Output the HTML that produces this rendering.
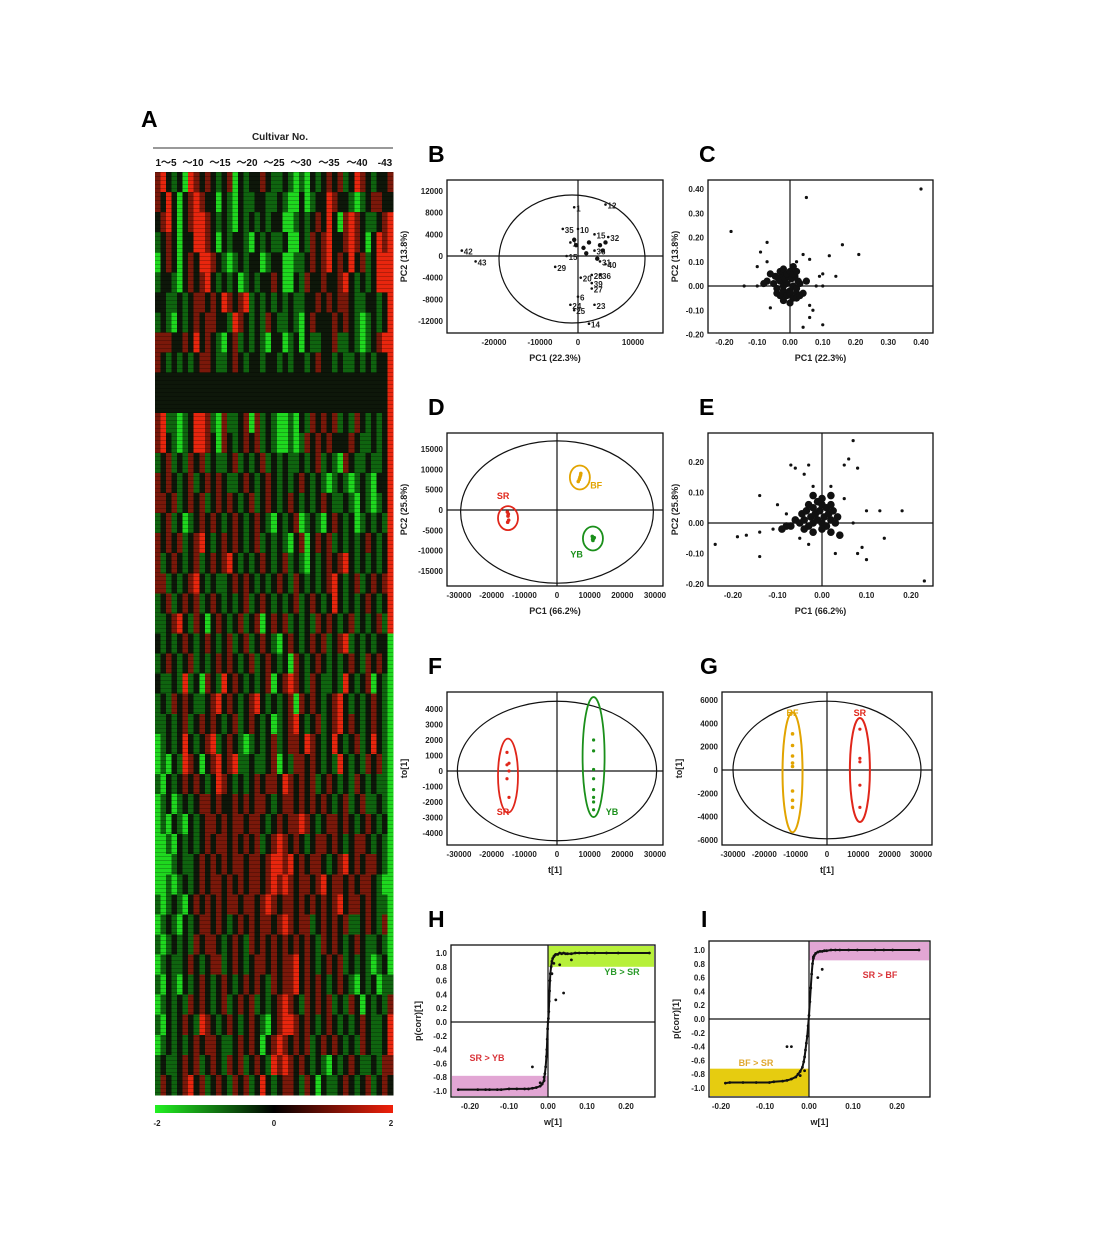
<!DOCTYPE html>
<html><head><meta charset="utf-8">
<style>
html,body{margin:0;padding:0;background:#fff;}
svg{display:block;font-family:"Liberation Sans",Arial,sans-serif;}
.tk{font-size:8px;font-weight:bold;fill:#222;}
.at{font-size:9px;font-weight:bold;fill:#222;}
.pl{font-size:23px;font-weight:bold;fill:#000;}
</style></head>
<body>
<svg id="fig" width="1100" height="1253" viewBox="0 0 1100 1253" xmlns="http://www.w3.org/2000/svg">
<rect x="0" y="0" width="1100" height="1253" fill="#fff"/>
<g id="root"></g>
</svg>
<script>
// ---------- DATA ----------
const heatRows = [
"rR.g.GRr.r.g.rG.g..r.gg.gGgG.g.r.rg.Rr.g.",
"r.R.G.rRr..G.gG.gg..gg.gGG.Gg..Rr..gGg.rr.",
".rR.G.rRRr.g.gG.g.g.g..GGg.g.r.R.GrRr.gg.r",
"g.r.G..RRr.G.g..gG.g.gg.GG.gr.rR..rRr.G.Rr",
"G.r.G.r.RRr.gGg.g..Gg..GGgg.r.rR.r.R.rg.RR",
"g..gG.r.rR.g.g.Gg.g..r.GG.gr..r..rR.g.g.RR",
"..gg.g.rr.r.Rr.rRg.g.g.g.gg..r.r.rr.gg..g.",
"g.gG.g.r.rr..gRr.g.gr.gg.gG.r...r.r.gGg.g.",
"rrr..r.R.r.gG.rg.g.gG..Gg.G.gg..rgg.gGg.rR",
"r.g.g.g.rr.gg.r.g..g..g.g..g.r..g.gg.g.g..",
"..........................................",
"..........................................",
"rRggGg.RRrgGrgg.rGrg.gGGgG.gr.r.rg.gr.g.g.",
"rR.gGg.RRr.Gr.g.r.rg.gGGgGgr.r.r...r.gg.g.",
"g.rg.gr.rg.gg.rg.g.rg.g.gg.g.rg.gGr.gg.gg.",
"r.r.g.rg.r.r.gg.r.g.r.g.g.r.g.gGg.gGg.gG..",
"rr.rg.r.rg.r.r.g.rg.r.g.r.g.g.r.gg.gG.gGg.",
"g.rg.Gg.r.r.g.r.g.r.gG.g.rGg.gG.r.g.Gg.g.g",
"r.r.rg.rR.g.r.r.g.rg.g.gG.rG.r.rg.g.g.r.g.",
"rg.r.g.rg.r.rR.g.g.r.g.rg.gG.g.r.rR.g.g.g.",
"rrg.g.rR.g.gg.r.r.g.g.r.gr.g.g.rR.g.rg.r.r",
"g.rg.r.rg.r.g.g.rg.r.g.g.rg.r.g.R.g.g.r.g.",
"gg.rR.gr.G.r.g.rg.rG.r.rg.g.gr.r.g.rg.g.rg",
".g.g.r.g.r.g.rg.rg.r.gG.r.g.r.rg.rRg.g.g.",
"g.r.g.rg.g.r.r.g.rg.r.g.Gr.g.r.g.g.r.gr.r.",
".gg.gRg.Gr.gR.r.g.g.rG.rRr.gr.gg.gR.g.rG.g",
"g.gr.r.gg.rR.r.g.rR.g.g.rGr.r.g.rR.g.g.r.g",
"gg.g.rg.r.r.g.rg.r.g.Gg.rR.g.rg.rR.r.g.r.g",
"Gg.g.R.g.rRg.r.gGg.g.rg.rr.Rr.g.R.g.rg.R.g",
"GgG.gRr.G.rR.rRgg.gg.rG.grr.r.g.gR.g.gr.rg",
"gG.g.r.r.g.Rr.g.g.r.rr.Rr.r.rg.r.g.gr.g.gg",
"Gg.Gg.g.rr.r..r.r.rr.g.rr.r.r.r.g.rg.rgg.g",
"GgG.gG.g.rr.r.rr.rr.g.r.rrRr.g.rr.r.g.r.g.",
"GGgG.g.g.r.rr.r.r.rg.rRr.r.g.rr.r.g.rr.g.g",
"GGGg.gg.r.r.r.rr.rr.rRRrR.r.rr.g.rR.r.rr.g",
"GGgGg.g.r.rr.r.r.rr.rRrRr.rr.rR.rr.r.rr.gG",
"gGg.gG.r.r.r.rr.rr.rRr.rr.r.r.r.rR.rr.r.gg",
"Gg.gG.g.rr.r.g.r.r.rr.rRr.rrg.r.r.rgg.r.gr",
"gGg.g.gr.rr.g.r.gr.r.r.r.r.r.gr.r.g.r.gg.g",
"Gg.gg.r.g.rrg.r.g.rr.r.rrR.r.g.r.rg.g.gGg.",
"gG.gG.g.r.g.r.g.r.r.gr.rrR.r.r.g.r.gG.g.Gg",
"Gg.g.gr.r.g.rg.r.rg.g.rRr.gr.r.rg.gr.G.g.g",
"gG.g.r.gRr.g.r.g.r.gG.rRRr.r.g.r.g.g.r.gg.",
"Gg.g.g.r.rr.gg.r.r.G.rRr.r.rg.r.r.g.gr.gg.",
"g.gg.r.rg.r.gr.rg.r.gRrRr.r.g.gG.g.r.gg.gr",
"gr.g.rR.rg.r.gr.rg.R.g.rr.gr.G.gg.r.g.rg.r"];
const heatSideCol = "r.RRRRRRRRRRRRRRRRRRRRRGGGGGGGGGGGGGGGGGgrRRr.g";
const heatColLabels = ["1～5","～10","～15","～20","～25","～30","～35","～40","-43"];
const colorbarTicks = ["-2","0","2"];

// B: PCA scores (cultivars)
const bX = [-27000,-24000,-1000,5000,-4000,0,3000,5500,-2000,3000,-3000,4000,5000,-6000,500,2500,4000,2500,2500,0,-2000,-1000,3000,2000,1000,2000,4000,5000,-1000,1500,3500,4500,-500];
const bY = [1000,-1000,9000,9500,5000,5000,4000,3500,2500,1000,0,-1000,-1500,-2000,-4000,-3500,-3500,-5000,-6000,-7500,-9000,-10000,-9000,-12500,1500,2500,2000,2500,3000,500,-500,1000,2000];
const bLbl = ["42","43","1","12","35","10","15","32","1","36","15","31","40","29","20","28","36","39","27","6","24","25","23","14","","","","","","","","",""];
const bXTicks = [-20000,-10000,0,10000];
const bYTicks = [12000,8000,4000,0,-4000,-8000,-12000];

// C: loadings
const cX = [0.40,0.05,-0.18,0.16,0.21,0.12,0.14,-0.07,-0.09,-0.10,-0.14,-0.10,0.06,0.04,0.10,0.09,-0.06,0.04,0.10,0.07,0.06,0.06,0.08,0.10,-0.07,0.02,
 -0.05,-0.04,-0.03,-0.02,-0.01,0,0.01,0.02,0.03,-0.045,-0.035,-0.025,-0.015,-0.005,0.005,0.015,0.025,-0.04,-0.03,-0.02,-0.01,0,0.01,0.02,-0.03,-0.02,-0.01,0,0.01,0.02,-0.06,-0.02,0.0,0.02,0.04,0.05,-0.07,0.01,-0.08,0.03];
const cY = [0.40,0.365,0.225,0.17,0.13,0.125,0.04,0.18,0.14,0.08,0.0,0.0,0.11,0.13,0.05,0.04,-0.09,-0.17,-0.16,-0.10,-0.13,-0.08,0.0,0.0,0.10,0.10,
 0.01,-0.01,0.02,0.0,0.01,-0.02,0.0,-0.01,0.01,0.04,0.03,0.05,0.03,0.04,0.03,0.04,0.02,-0.03,-0.04,-0.02,-0.04,-0.03,-0.05,-0.03,0.06,0.07,0.05,0.06,0.05,0.06,0.05,-0.06,-0.07,-0.05,-0.03,0.02,0.02,0.08,0.01,-0.04];
const cXTicks = [-0.20,-0.10,0,0.10,0.20,0.30,0.40];
const cYTicks = [0.40,0.30,0.20,0.10,0,-0.10,-0.20];

// D: PCA groups
const dGroups = ["SR","BF","YB"];
const dCx = [-15000,7000,11000];
const dCy = [-2000,8000,-7000];
const dPtX = [-15200,-15000,-14800,-15100,-14900, 6500,7000,7300,6800,7200, 10800,11200,11000,11400,10900];
const dPtY = [-500,-1500,-2500,-3000,-1000, 7000,8000,9000,7500,8500, -6500,-7000,-7500,-6800,-7200];
const dPtG = [0,0,0,0,0,1,1,1,1,1,2,2,2,2,2];
const dXTicks = [-30000,-20000,-10000,0,10000,20000,30000];
const dYTicks = [15000,10000,5000,0,-5000,-10000,-15000];

// E: loadings
const eX = [0.23,-0.24,-0.19,-0.17,-0.14,-0.14,-0.14,-0.10,-0.07,-0.06,-0.03,-0.04,0.07,0.06,0.05,0.08,0.10,0.13,0.18,0.14,0.10,0.09,0.08,0.03,-0.03,-0.05,0.05,0.02,-0.02,0.07,-0.08,-0.11,
 -0.07,-0.06,-0.05,-0.04,-0.03,-0.02,-0.01,0,0.01,0.02,0.03,-0.045,-0.035,-0.025,-0.015,-0.005,0.005,0.015,0.025,0.035,-0.03,-0.02,-0.01,0,0.01,0.02,-0.02,0,0.02,-0.04,-0.02,0,0.02,0.04,-0.08,-0.09];
const eY = [-0.19,-0.07,-0.045,-0.04,-0.03,-0.11,0.09,0.06,0.19,0.18,0.19,0.16,0.27,0.21,0.19,0.18,0.04,0.04,0.04,-0.05,-0.12,-0.08,-0.10,-0.10,-0.07,-0.05,0.08,0.12,0.12,0.0,0.03,-0.02,
 -0.01,0.01,0.0,0.01,-0.01,0.0,0.01,0.0,-0.01,0.01,0.0,0.03,0.04,0.02,0.03,0.04,0.02,0.03,0.04,0.02,0.06,0.05,0.07,0.06,0.05,0.06,0.09,0.08,0.09,-0.02,-0.03,-0.02,-0.03,-0.04,-0.01,-0.02];
const eXTicks = [-0.20,-0.10,0,0.10,0.20];
const eYTicks = [0.20,0.10,0,-0.10,-0.20];

// F: OPLS-DA SR vs YB
const fSRy = [1200,500,400,0,-500,-1700];
const fYBy = [2000,1300,100,-500,-1200,-1700,-2000,-2500];
const fSRx = -15000, fYBx = 11200;
const fXTicks = [-30000,-20000,-10000,0,10000,20000,30000];
const fYTicks = [4000,3000,2000,1000,0,-1000,-2000,-3000,-4000];

// G: OPLS-DA BF vs SR
const gBFy = [3100,2100,1200,600,300,-1800,-2600,-3200];
const gSRy = [3500,1000,700,-1300,-3200];
const gBFx = -11000, gSRx = 10500;
const gXTicks = [-30000,-20000,-10000,0,10000,20000,30000];
const gYTicks = [6000,4000,2000,0,-2000,-4000,-6000];

// H: S-plot
const hX = [0.26,0.18,0.15,0.12,0.10,0.08,0.07,0.06,0.05,0.045,0.04,0.035,0.03,0.025,0.02,0.018,0.015,0.012,0.01,0.008,0.006,0.005,0.004,0.003,0.002,0.001,0,-0.001,-0.002,-0.003,-0.004,-0.006,-0.008,-0.01,-0.015,-0.02,-0.03,-0.04,-0.05,-0.06,-0.08,-0.10,-0.12,-0.13,-0.15,-0.16,-0.18,-0.23,0.03,0.02,0.04,0.06,-0.04,0.015,0.01,-0.01,-0.02];
const hY = [1.0,1.0,1.0,1.0,1.0,1.0,1.0,0.99,0.99,0.99,1.0,0.99,1.0,0.98,0.98,0.97,0.95,0.92,0.88,0.8,0.7,0.6,0.45,0.3,0.15,0.05,0,-0.1,-0.25,-0.4,-0.5,-0.65,-0.75,-0.85,-0.9,-0.93,-0.95,-0.96,-0.97,-0.97,-0.97,-0.97,-0.98,-0.98,-0.98,-0.98,-0.98,-0.98,0.83,0.32,0.42,0.9,-0.65,0.85,0.7,-0.8,-0.88];
const pXTicksH = [-0.20,-0.10,0.00,0.10,0.20];
const pYTicks = [1.0,0.8,0.6,0.4,0.2,0.0,-0.2,-0.4,-0.6,-0.8,-1.0];

// I: S-plot
const iX = [0.25,0.19,0.17,0.15,0.11,0.09,0.07,0.06,0.05,0.04,0.035,0.03,0.025,0.02,0.015,0.012,0.01,0.008,0.006,0.004,0.002,0,-0.002,-0.004,-0.006,-0.008,-0.01,-0.012,-0.015,-0.02,-0.025,-0.03,-0.04,-0.05,-0.06,-0.08,-0.09,-0.12,-0.15,-0.18,-0.19,0.03,0.02,-0.04,-0.05,0.01,-0.01,-0.02];
const iY = [1.0,1.0,1.0,1.0,1.0,1.0,1.0,1.0,1.0,0.99,0.99,0.98,0.98,0.97,0.95,0.92,0.88,0.8,0.65,0.45,0.25,0.05,-0.1,-0.25,-0.35,-0.45,-0.55,-0.62,-0.7,-0.76,-0.8,-0.84,-0.87,-0.89,-0.9,-0.91,-0.92,-0.92,-0.92,-0.92,-0.93,0.72,0.6,-0.4,-0.4,0.9,-0.75,-0.82];
const pXTicksI = [-0.20,-0.10,0.00,0.10,0.20];

// ---------- HELPERS ----------
const NS = "http://www.w3.org/2000/svg";
const root = document.getElementById('root');
function mk(tag, attrs, parent, text){
  const e = document.createElementNS(NS, tag);
  for (const k in attrs) e.setAttribute(k, attrs[k]);
  if (text !== undefined) e.textContent = text;
  (parent || root).appendChild(e);
  return e;
}
function lin(d0,d1,r0,r1){ return v => r0 + (v-d0)*(r1-r0)/(d1-d0); }
function fmt(v,dec){ return dec>0 ? v.toFixed(dec) : String(v); }

function panel(name, letter, lx, ly, box, sx, sy, xt, yt, xdec, ydec, xTitle, yTitle, cross){
  const g = mk('g', {});
  
  
  const L = mk('text', {x:lx, y:ly, class:'pl'}, g, letter);
  
  
  const fr = mk('rect', {x:box[0], y:box[1], width:box[2]-box[0], height:box[3]-box[1], fill:'none', stroke:'#111', 'stroke-width':1.3}, g);
  
  
  const xa = mk('g', {}, g);
  
  
  xt.forEach(v => {
    const t = mk('text', {x:sx(v), y:box[3]+12, class:'tk', 'text-anchor':'middle'}, xa, fmt(v,xdec));
    
    
  });
  const ya = mk('g', {}, g);
  
  
  yt.forEach(v => {
    const t = mk('text', {x:box[0]-4, y:sy(v)+3, class:'tk', 'text-anchor':'end'}, ya, fmt(v,ydec));
    
    
  });
  const xtl = mk('text', {x:(box[0]+box[2])/2, y:box[3]+28, class:'at', 'text-anchor':'middle'}, g, xTitle);
  
  
  const yx = box[0] - (ydec>0 ? 30 : 40);
  const ytl = mk('text', {x:yx, y:(box[1]+box[3])/2, class:'at', 'text-anchor':'middle', transform:`rotate(-90 ${yx} ${(box[1]+box[3])/2})`}, g, yTitle);
  
  
  if (cross){
    const vl = mk('line', {x1:sx(0), x2:sx(0), y1:box[1], y2:box[3], stroke:'#111', 'stroke-width':1.2}, g);
    
    
    const hl = mk('line', {x1:box[0], x2:box[2], y1:sy(0), y2:sy(0), stroke:'#111', 'stroke-width':1.2}, g);
    
    
  }
  return g;
}
function dot(g, x, y, r, fill, nm){
  const c = mk('circle', {cx:x, cy:y, r:r, fill:fill}, g);
  
  
  return c;
}
function ell(g, cx, cy, rx, ry, col, w, nm){
  const e = mk('ellipse', {cx:cx, cy:cy, rx:Math.abs(rx), ry:Math.abs(ry), fill:'none', stroke:col, 'stroke-width':w}, g);
  
  
  return e;
}
function lbl(g, x, y, txt, col, nm, size){
  const t = mk('text', {x:x, y:y, fill:col, 'font-size':size||9, 'font-weight':'bold', 'text-anchor':'middle'}, g, txt);
  
  
  return t;
}

// ---------- PANEL A: HEATMAP ----------
(function(){
  const g = mk('g', {});
  
  
  const A = mk('text', {x:141, y:127, class:'pl'}, g, 'A');
  
  
  const ct = mk('text', {x:280, y:140, 'font-size':10, 'font-weight':'bold', fill:'#222', 'text-anchor':'middle'}, g, 'Cultivar No.');
  
  
  const ln = mk('line', {x1:153, x2:393, y1:148, y2:148, stroke:'#333', 'stroke-width':1}, g);
  
  
  const labX = [166,193,220,247,274,301,329,357,385];
  heatColLabels.forEach((s,i) => {
    const t = mk('text', {x:labX[i], y:166, 'font-size':10, 'font-weight':'bold', fill:'#111', 'text-anchor':'middle'}, g, s);
    
    
  });
  const X0 = 155, X1 = 393, Y0 = 172, Y1 = 1095;
  const nC = 43, nR = heatRows.length;
  const cw = (X1-X0)/nC, rh = (Y1-Y0)/nR;
  const colMap = {'R':'#e8260e', 'r':'#7a180a', '.':'#0e170a', 'g':'#0f640f', 'G':'#1fd81f'};
  const cells = mk('g', {'shape-rendering':'crispEdges'}, g);
  
  
  heatRows.forEach((row, r) => {
    const full = (row + '.'.repeat(42)).slice(0,42) + heatSideCol[r];
    for (let c = 0; c < nC; c++){
      const rc = mk('rect', {x:(X0 + c*cw).toFixed(2), y:(Y0 + r*rh).toFixed(2), width:(cw+0.4).toFixed(2), height:(rh+0.4).toFixed(2), fill:colMap[full[c]] || '#0e170a'}, cells);
      
      
    }
  });
  const tex = mk('g', {opacity:0.22}, g);
  
  
  for (let y = Y0; y < Y1; y += 4){
    const l = mk('line', {x1:X0, x2:X1, y1:y+0.5, y2:y+0.5, stroke:'#000', 'stroke-width':1}, tex);
    
    
  }
  const defs = mk('defs', {}, g);
  const lg = mk('linearGradient', {id:'cbg', x1:0, x2:1, y1:0, y2:0}, defs);
  mk('stop', {offset:'0', 'stop-color':'#22f022'}, lg);
  mk('stop', {offset:'0.5', 'stop-color':'#000'}, lg);
  mk('stop', {offset:'1', 'stop-color':'#f0200a'}, lg);
  const cb = mk('rect', {x:155, y:1105, width:238, height:8, fill:'url(#cbg)'}, g);
  
  
  const cbX = [157, 274, 391];
  colorbarTicks.forEach((s,i) => {
    const t = mk('text', {x:cbX[i], y:1126, 'font-size':8, 'font-weight':'bold', fill:'#222', 'text-anchor':'middle'}, g, s);
    
    
  });
})();

// ---------- PANEL B ----------
(function(){
  const tk = [[-20000,494],[-10000,540],[0,578],[10000,633]];
  const sx = v => { let a = tk[0], b = tk[1];
    for (let i=0;i<tk.length-1;i++){ if (v>=tk[i][0]) { a=tk[i]; b=tk[i+1]; } }
    return a[1] + (v-a[0])*(b[1]-a[1])/(b[0]-a[0]); };
  const sy = lin(0, 12000, 256, 191);
  const box = [447,180,663,333];
  const g = panel('b','B',428,162,box,sx,sy,bXTicks,bYTicks,0,0,'PC1 (22.3%)','PC2 (13.8%)',true);
  ell(g, 572, 259, 73, 64, '#111', 1.2, 'hotelling-ellipse');
  bX.forEach((x,i) => {
    dot(g, sx(x), sy(bY[i]), bLbl[i] ? 1.3 : 2.2, '#111', 'score-point');
    if (bLbl[i]) {
      const t = mk('text', {x:sx(x)+2, y:sy(bY[i])+4, 'font-size':8, 'font-weight':'bold', fill:'#222'}, g, bLbl[i]);
      
      
    }
  });
})();

// ---------- PANEL C ----------
(function(){
  const sx = lin(0, 0.40, 790, 921);
  const sy = lin(0, 0.40, 286, 189);
  const box = [708,180,933,333];
  const g = panel('c','C',699,162,box,sx,sy,cXTicks,cYTicks,2,2,'PC1 (22.3%)','PC2 (13.8%)',true);
  cX.forEach((x,i) => dot(g, sx(x), sy(cY[i]), i < 26 ? 1.6 : 3.6, '#111', 'loading-point'));
})();

// ---------- PANEL D ----------
(function(){
  const sx = lin(0, 30000, 557, 655);
  const sy = lin(0, 15000, 510, 449);
  const box = [447,433,663,586];
  const g = panel('d','D',428,415,box,sx,sy,dXTicks,dYTicks,0,0,'PC1 (66.2%)','PC2 (25.8%)',true);
  ell(g, sx(0), sy(-500), sx(29500)-sx(0), sy(0)-sy(17500), '#111', 1.2, 'hotelling-ellipse');
  const cols = ['#e0261a','#e2a400','#1a8f1a'];
  const lx = [-16500, 12000, 6000], ly = [3500, 6000, -11000];
  dGroups.forEach((gname,k) => {
    ell(g, sx(dCx[k]), sy(dCy[k]), 10, 12, cols[k], 1.8, 'group-ellipse-' + gname.toLowerCase());
    lbl(g, sx(lx[k]), sy(ly[k])+3, gname, cols[k], 'group-label-' + gname.toLowerCase());
  });
  dPtX.forEach((x,i) => dot(g, sx(x), sy(dPtY[i]), 1.8, cols[dPtG[i]], 'group-point'));
})();

// ---------- PANEL E ----------
(function(){
  const sx = lin(0, 0.20, 822, 911);
  const sy = lin(0, 0.20, 523, 462);
  const box = [708,433,933,586];
  const g = panel('e','E',699,415,box,sx,sy,eXTicks,eYTicks,2,2,'PC1 (66.2%)','PC2 (25.8%)',true);
  eX.forEach((x,i) => dot(g, sx(x), sy(eY[i]), i < 32 ? 1.6 : 3.8, '#111', 'loading-point'));
})();

// ---------- PANEL F ----------
(function(){
  const sx = lin(0, 30000, 557, 655);
  const sy = lin(0, 4000, 771, 709);
  const box = [447,692,663,845];
  const g = panel('f','F',428,674,box,sx,sy,fXTicks,fYTicks,0,0,'t[1]','to[1]',true);
  ell(g, sx(0), sy(0), sx(30500)-sx(0), sy(0)-sy(4500), '#111', 1.2, 'hotelling-ellipse');
  ell(g, sx(fSRx), sy(-300), 10, 37, '#e0261a', 1.8, 'group-ellipse-sr');
  ell(g, sx(fYBx), sy(900), 11, 60, '#1a8f1a', 1.8, 'group-ellipse-yb');
  fSRy.forEach((y,i) => dot(g, sx(fSRx) + (i%2?1:-1), sy(y), 1.6, '#e0261a', 'sr-point'));
  fYBy.forEach(y => dot(g, sx(fYBx), sy(y), 1.6, '#1a8f1a', 'yb-point'));
  lbl(g, 503, 815, 'SR', '#e0261a', 'group-label-sr');
  lbl(g, 612, 815, 'YB', '#1a8f1a', 'group-label-yb');
})();

// ---------- PANEL G ----------
(function(){
  const sx = lin(0, 30000, 827, 921);
  const sy = lin(0, 6000, 770, 700);
  const box = [722,692,932,845];
  const g = panel('g','G',700,674,box,sx,sy,gXTicks,gYTicks,0,0,'t[1]','to[1]',true);
  ell(g, sx(0), sy(0), sx(30000)-sx(0), sy(0)-sy(5900), '#111', 1.2, 'hotelling-ellipse');
  ell(g, sx(gBFx), sy(-200), 10, 60, '#e2a400', 2, 'group-ellipse-bf');
  ell(g, sx(gSRx), sy(0), 10, 52, '#e0261a', 2, 'group-ellipse-sr');
  gBFy.forEach(y => dot(g, sx(gBFx), sy(y), 1.8, '#e2a400', 'bf-point'));
  gSRy.forEach(y => dot(g, sx(gSRx), sy(y), 1.6, '#e0261a', 'sr-point'));
  lbl(g, sx(gBFx), 716, 'BF', '#e2a400', 'group-label-bf');
  lbl(g, sx(gSRx), 716, 'SR', '#e0261a', 'group-label-sr');
})();

// ---------- PANEL H ----------
(function(){
  const sx = lin(0, 0.20, 548, 626);
  const sy = lin(0, 1.0, 1022, 953);
  const box = [451,945,655,1097];
  const g = panel('h','H',428,927,box,sx,sy,pXTicksH,pYTicks,2,1,'w[1]','p(corr)[1]',false);
  const hi = mk('rect', {x:sx(0), y:box[1]+1, width:box[2]-sx(0)-1, height:sy(0.8)-box[1]-1, fill:'#b7f03a'}, g);
  
  
  const lo = mk('rect', {x:box[0]+1, y:sy(-0.78), width:sx(0)-box[0]-1, height:box[3]-sy(-0.78)-1, fill:'#e2a6d4'}, g);
  
  
  const vl = mk('line', {x1:sx(0), x2:sx(0), y1:box[1], y2:box[3], stroke:'#111', 'stroke-width':1.2}, g);
   
  const hl = mk('line', {x1:box[0], x2:box[2], y1:sy(0), y2:sy(0), stroke:'#111', 'stroke-width':1.2}, g);
   
  hX.forEach((x,i) => dot(g, sx(x), sy(hY[i]), 1.4, '#111', 'splot-point'));
  const curve = mk('polyline', {points: hX.slice(0,48).map((x,i)=>sx(x)+','+sy(hY[i])).join(' '), fill:'none', stroke:'#111', 'stroke-width':2}, g);
   
  lbl(g, 622, 975, 'YB > SR', '#2a9a2a', 'label-yb-gt-sr');
  lbl(g, 487, 1061, 'SR > YB', '#d9343a', 'label-sr-gt-yb');
})();

// ---------- PANEL I ----------
(function(){
  const sx = lin(0, 0.20, 809, 897);
  const sy = lin(0, 1.0, 1019, 950);
  const box = [709,941,930,1097];
  const g = panel('i','I',701,927,box,sx,sy,pXTicksI,pYTicks,2,1,'w[1]','p(corr)[1]',false);
  const hi = mk('rect', {x:sx(0), y:box[1]+1, width:box[2]-sx(0)-1, height:sy(0.85)-box[1]-1, fill:'#e2a6d4'}, g);
   
  const lo = mk('rect', {x:box[0]+1, y:sy(-0.72), width:sx(0)-box[0]-1, height:box[3]-sy(-0.72)-1, fill:'#e6cc10'}, g);
   
  const vl = mk('line', {x1:sx(0), x2:sx(0), y1:box[1], y2:box[3], stroke:'#111', 'stroke-width':1.2}, g);
   
  const hl = mk('line', {x1:box[0], x2:box[2], y1:sy(0), y2:sy(0), stroke:'#111', 'stroke-width':1.2}, g);
   
  iX.forEach((x,i) => dot(g, sx(x), sy(iY[i]), 1.4, '#111', 'splot-point'));
  const curve = mk('polyline', {points: iX.slice(0,41).map((x,i)=>sx(x)+','+sy(iY[i])).join(' '), fill:'none', stroke:'#111', 'stroke-width':2}, g);
   
  lbl(g, 880, 978, 'SR > BF', '#d9343a', 'label-sr-gt-bf');
  lbl(g, 756, 1066, 'BF  >  SR', '#e0a830', 'label-bf-gt-sr');
})();
</script>
</body></html>
